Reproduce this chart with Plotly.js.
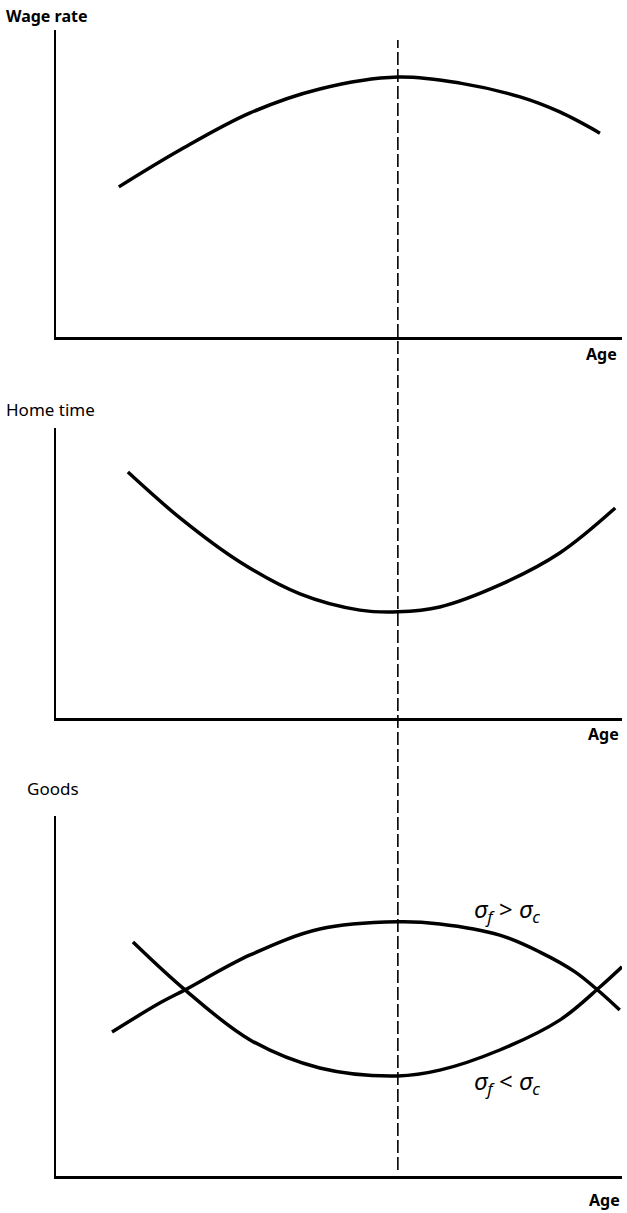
<!DOCTYPE html>
<html>
<head>
<meta charset="utf-8">
<script src="https://cdn.plot.ly/plotly-3.0.1.min.js"></script>
<style>html,body{margin:0;padding:0;background:#fff;}#chart{width:627px;height:1213px;}</style>
</head>
<body>
<div id="chart"></div>
<script>
// Panel titles and axis labels
const panelTitles = ["Wage rate", "Home time", "Goods"];
const xLabel = "Age";
const curveLabels = ["<i>σ<sub>f</sub></i> > <i>σ<sub>c</sub></i>", "<i>σ<sub>f</sub></i> < <i>σ<sub>c</sub></i>"];

// Age at which wage peaks (dashed reference line)
const peakAge = 60.4;

// Panel 1: wage rate over age
const wageAge  = [11.1, 21.9, 34.3, 46.6, 60.4, 71.4, 82.0, 89.0, 96.1];
const wageRate = [48.9, 60.9, 73.0, 80.8, 84.7, 82.7, 78.2, 73.3, 66.4];

// Panel 2: home time over age
const homeAge  = [12.7, 21.9, 32.5, 43.1, 53.7, 60.4, 67.8, 78.4, 89.0, 98.8];
const homeTime = [84.8, 69.0, 53.8, 42.8, 37.2, 36.6, 38.3, 45.9, 56.9, 72.4];

// Panel 3: goods over age, two cases
const goodsHighAge = [9.9, 18.4, 22.8, 34.3, 46.6, 60.4, 67.8, 78.4, 85.5, 91.7, 96.1, 99.6];
const goodsHigh    = [40.0, 48.1, 51.7, 61.4, 68.6, 70.6, 70.0, 66.9, 62.2, 56.7, 51.1, 46.1];
const goodsLowAge  = [13.6, 22.8, 34.3, 46.6, 60.4, 67.8, 78.4, 89.0, 96.1, 100.0];
const goodsLow     = [65.0, 51.7, 37.8, 30.0, 27.8, 29.4, 35.0, 43.3, 52.5, 58.1];

const H = 1213, W = 627;
const py = p => 1 - p / H;
const px = p => p / W;

const lineStyle = {color: '#000', width: 3.5, shape: 'spline', smoothing: 1};
const traces = [
  {x: wageAge, y: wageRate, xaxis: 'x', yaxis: 'y', mode: 'lines', line: lineStyle, hoverinfo: 'skip'},
  {x: homeAge, y: homeTime, xaxis: 'x2', yaxis: 'y2', mode: 'lines', line: lineStyle, hoverinfo: 'skip'},
  {x: goodsHighAge, y: goodsHigh, xaxis: 'x3', yaxis: 'y3', mode: 'lines', line: lineStyle, hoverinfo: 'skip'},
  {x: goodsLowAge, y: goodsLow, xaxis: 'x3', yaxis: 'y3', mode: 'lines', line: lineStyle, hoverinfo: 'skip'}
];

const xdom = [px(56), px(622)];
function xax(anchor) {
  return {domain: xdom, range: [0, 100], anchor: anchor, showline: true, linecolor: '#000', linewidth: 2.5,
          showgrid: false, zeroline: false, showticklabels: false, ticks: ''};
}
function yax(anchor, dom) {
  return {domain: dom, range: [0, 100], anchor: anchor, showline: true, linecolor: '#000', linewidth: 2.5,
          showgrid: false, zeroline: false, showticklabels: false, ticks: ''};
}

const fam = 'Noto Sans, DejaVu Sans, sans-serif';
const titleFont = {family: fam, size: 17, color: '#000'};
const boldFont = {family: fam, size: 16, color: '#000'};
const sigmaFont = {family: fam, size: 24, color: '#000'};

const layout = {
  width: W, height: H,
  margin: {l: 0, r: 0, t: 0, b: 0},
  paper_bgcolor: '#fff', plot_bgcolor: '#fff',
  showlegend: false,
  xaxis: xax('y'),
  yaxis: yax('x', [py(337), py(30)]),
  xaxis2: xax('y2'),
  yaxis2: yax('x2', [py(718), py(428)]),
  xaxis3: xax('y3'),
  yaxis3: yax('x3', [py(1176), py(816)]),
  shapes: [
    {type: 'line', xref: 'x', yref: 'paper', x0: peakAge, x1: peakAge, y0: py(1170), y1: py(40),
     line: {color: '#000', width: 1.6, dash: '13px,4px'}}
  ],
  annotations: [
    {text: '<b>' + panelTitles[0] + '</b>', xref: 'paper', yref: 'paper', x: px(4), y: py(16), xanchor: 'left', yanchor: 'middle', showarrow: false, font: {family: fam, size: 16, color: '#000'}},
    {text: panelTitles[1], xref: 'paper', yref: 'paper', x: px(4), y: py(409), xanchor: 'left', yanchor: 'middle', showarrow: false, font: titleFont},
    {text: panelTitles[2], xref: 'paper', yref: 'paper', x: px(25), y: py(789), xanchor: 'left', yanchor: 'middle', showarrow: false, font: titleFont},
    {text: '<b>' + xLabel + '</b>', xref: 'paper', yref: 'paper', x: px(619), y: py(354), xanchor: 'right', yanchor: 'middle', showarrow: false, font: boldFont},
    {text: '<b>' + xLabel + '</b>', xref: 'paper', yref: 'paper', x: px(621), y: py(734), xanchor: 'right', yanchor: 'middle', showarrow: false, font: boldFont},
    {text: '<b>' + xLabel + '</b>', xref: 'paper', yref: 'paper', x: px(622), y: py(1200), xanchor: 'right', yanchor: 'middle', showarrow: false, font: boldFont},
    {text: curveLabels[0], xref: 'paper', yref: 'paper', x: px(472), y: py(910), xanchor: 'left', yanchor: 'middle', showarrow: false, font: sigmaFont},
    {text: curveLabels[1], xref: 'paper', yref: 'paper', x: px(472), y: py(1082), xanchor: 'left', yanchor: 'middle', showarrow: false, font: sigmaFont}
  ]
};

Plotly.newPlot('chart', traces, layout, {displayModeBar: false, staticPlot: true});
</script>
</body>
</html>
